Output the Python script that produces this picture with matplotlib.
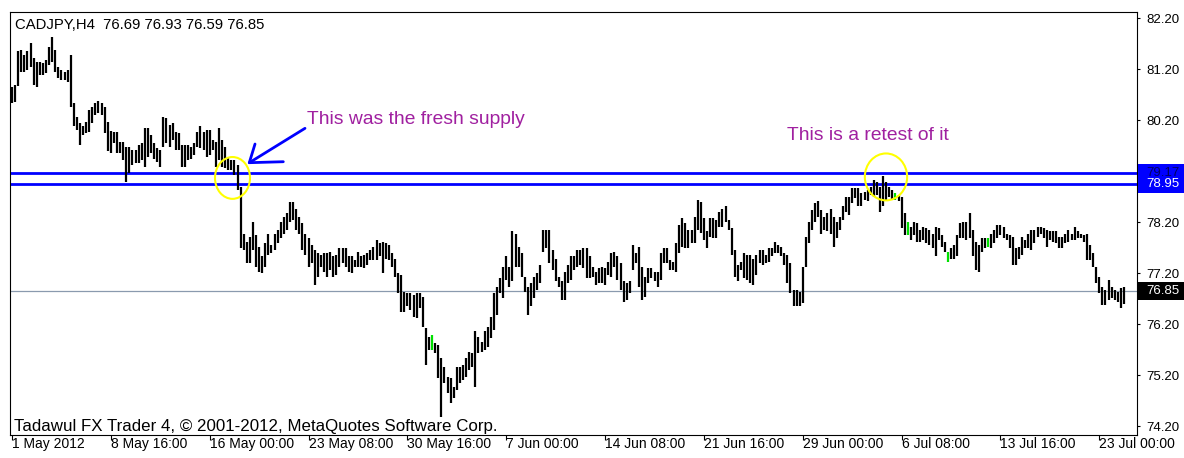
import matplotlib
matplotlib.use("Agg")
import matplotlib.pyplot as plt
from matplotlib.patches import Ellipse, Rectangle
from matplotlib.transforms import blended_transform_factory
import numpy as np

plt.rcParams['font.family'] = ['Liberation Sans', 'DejaVu Sans']

W, H = 1184, 458

# ---------------- data ----------------
symbol = "CADJPY,H4"
last_ohlc = [76.69, 76.93, 76.59, 76.85]
supply_top = 79.17
supply_bottom = 78.95
bid = 76.85

highs = [
    80.85, 80.89, 81.55, 81.58, 81.48, 81.55, 81.71, 81.42, 81.35, 81.35,
    81.32, 81.38, 81.64, 81.84, 81.58, 81.25, 81.19, 81.15, 81.19, 81.48,
    80.53, 80.27, 80.14, 80.08, 80.17, 80.40, 80.47, 80.53, 80.57, 80.53,
    80.47, 80.17, 80.00, 79.98, 79.98, 79.78, 79.78, 79.68, 79.68, 79.62,
    79.62, 79.72, 79.75, 80.04, 80.04, 79.91, 79.75, 79.65, 79.62, 80.27,
    80.24, 80.11, 80.14, 79.98, 79.95, 79.72, 79.72, 79.72, 79.68, 79.75,
    79.98, 80.08, 79.98, 80.01, 80.01, 79.81, 79.78, 80.04, 79.81, 79.68,
    79.49, 79.42, 79.42, 79.32, 78.90, 77.98, 77.82, 77.92, 78.21, 77.95,
    77.72, 77.53, 77.79, 77.98, 77.76, 77.98, 78.05, 78.21, 78.31, 78.38,
    78.60, 78.59, 78.47, 78.31, 78.18, 77.98, 77.89, 77.76, 77.66, 77.59,
    77.56, 77.59, 77.59, 77.62, 77.53, 77.56, 77.69, 77.69, 77.69, 77.53,
    77.53, 77.46, 77.62, 77.53, 77.56, 77.59, 77.66, 77.72, 77.85, 77.79,
    77.82, 77.79, 77.76, 77.59, 77.49, 77.20, 77.17, 76.84, 76.81, 76.81,
    76.78, 76.81, 76.81, 76.74, 76.12, 75.96, 75.99, 75.83, 75.79, 75.53,
    75.37, 75.17, 75.14, 74.98, 75.37, 75.37, 75.40, 75.53, 75.66, 75.63,
    76.06, 75.96, 75.86, 76.06, 76.15, 76.35, 76.81, 76.94, 77.10, 77.33,
    77.53, 77.33, 78.02, 77.98, 77.72, 77.59, 77.13, 76.94, 77.00, 77.13,
    77.20, 77.36, 78.05, 78.05, 78.05, 77.66, 77.49, 77.13, 77.04, 77.23,
    77.36, 77.53, 77.53, 77.66, 77.66, 77.69, 77.69, 77.53, 77.33, 77.23,
    77.30, 77.33, 77.30, 77.43, 77.59, 77.62, 77.53, 77.40, 77.04, 77.00,
    77.04, 77.76, 77.59, 77.72, 77.33, 77.13, 77.30, 77.30, 77.23, 77.23,
    77.59, 77.69, 77.69, 77.46, 77.43, 77.79, 78.15, 78.28, 78.18, 78.05,
    78.05, 78.31, 78.64, 78.60, 78.28, 78.02, 78.28, 78.28, 78.25, 78.41,
    78.47, 78.51, 78.25, 78.08, 77.66, 77.36, 77.43, 77.59, 77.56, 77.56,
    77.49, 77.56, 77.66, 77.66, 77.56, 77.69, 77.69, 77.82, 77.76, 77.72,
    77.59, 77.56, 77.40, 76.87, 76.87, 76.84, 77.33, 77.92, 78.21, 78.44,
    78.57, 78.61, 78.44, 78.31, 78.38, 78.47, 78.31, 78.21, 78.31, 78.51,
    78.70, 78.70, 78.87, 78.87, 78.87, 78.77, 78.80, 78.83, 78.90, 79.03,
    79.00, 78.90, 79.10, 79.00, 78.90, 78.83, 78.77, 78.74, 78.70, 78.38,
    78.21, 78.11, 78.21, 78.18, 78.05, 78.11, 78.08, 78.05, 77.98, 78.11,
    78.08, 77.95, 77.82, 77.62, 77.69, 77.76, 77.95, 78.18, 78.21, 78.21,
    78.38, 78.05, 77.82, 77.76, 77.89, 77.89, 77.89, 77.98, 78.05, 78.15,
    78.15, 78.11, 77.98, 77.95, 77.92, 77.69, 77.72, 77.92, 77.85, 77.98,
    78.05, 78.05, 78.11, 78.11, 78.08, 78.05, 78.02, 78.02, 78.02, 77.92,
    77.92, 77.98, 78.05, 77.98, 78.11, 78.02, 77.98, 77.95, 77.98, 77.76,
    77.59, 77.33, 77.13, 76.94, 76.87, 77.07, 76.94, 76.87, 76.84, 76.91,
    76.93,
]
lows = [
    80.53, 80.55, 80.88, 81.15, 81.15, 81.19, 81.25, 80.89, 80.86, 81.09,
    81.09, 81.12, 81.28, 81.35, 81.15, 81.02, 80.99, 80.99, 80.96, 80.47,
    80.08, 80.01, 79.72, 79.91, 79.95, 79.98, 80.14, 80.30, 80.34, 80.30,
    79.95, 79.60, 79.55, 79.75, 79.55, 79.55, 79.42, 79.00, 79.16, 79.32,
    79.36, 79.36, 79.42, 79.29, 79.49, 79.55, 79.45, 79.39, 79.29, 79.68,
    79.75, 79.68, 79.81, 79.62, 79.62, 79.29, 79.29, 79.42, 79.45, 79.52,
    79.68, 79.65, 79.62, 79.49, 79.52, 79.62, 79.29, 79.42, 79.29, 79.26,
    79.23, 79.23, 79.13, 78.83, 77.69, 77.66, 77.40, 77.40, 77.66, 77.33,
    77.23, 77.20, 77.33, 77.56, 77.59, 77.66, 77.79, 77.89, 77.98, 78.05,
    78.21, 78.25, 78.05, 77.98, 77.66, 77.56, 77.33, 77.40, 76.97, 77.13,
    77.33, 77.23, 77.13, 77.27, 77.13, 77.17, 77.33, 77.40, 77.33, 77.23,
    77.20, 77.33, 77.33, 77.33, 77.30, 77.36, 77.46, 77.46, 77.46, 77.53,
    77.20, 77.49, 77.46, 77.33, 77.13, 76.81, 76.45, 76.45, 76.55, 76.48,
    76.35, 76.32, 76.51, 76.15, 75.40, 75.70, 75.70, 75.63, 75.14, 74.39,
    75.04, 74.85, 74.65, 74.75, 74.91, 75.04, 75.11, 75.17, 75.30, 75.37,
    74.98, 75.63, 75.66, 75.70, 75.76, 75.93, 76.09, 76.38, 76.81, 76.71,
    77.07, 76.94, 77.04, 77.33, 77.33, 77.13, 76.84, 76.38, 76.55, 76.71,
    76.87, 77.00, 77.62, 77.69, 77.40, 77.27, 77.04, 76.94, 76.68, 76.68,
    77.00, 77.07, 77.27, 77.33, 77.36, 77.30, 77.10, 77.10, 77.13, 76.97,
    77.00, 77.00, 76.97, 77.17, 77.13, 77.33, 77.07, 76.87, 76.64, 76.68,
    76.81, 77.27, 77.40, 76.94, 76.68, 76.74, 77.00, 77.10, 77.04, 76.94,
    77.07, 77.40, 77.40, 77.27, 77.27, 77.23, 77.59, 77.72, 77.69, 77.69,
    77.79, 77.79, 78.05, 78.00, 77.85, 77.69, 77.92, 77.89, 77.89, 78.11,
    78.11, 78.21, 78.05, 77.56, 77.13, 77.04, 77.27, 77.10, 77.07, 77.00,
    76.97, 77.17, 77.40, 77.36, 77.40, 77.43, 77.53, 77.59, 77.59, 77.53,
    77.36, 77.00, 76.81, 76.55, 76.55, 76.55, 76.61, 77.33, 77.79, 78.05,
    78.21, 78.31, 77.98, 78.05, 78.02, 77.98, 77.72, 77.89, 78.05, 78.25,
    78.41, 78.34, 78.57, 78.67, 78.51, 78.51, 78.64, 78.61, 78.74, 78.70,
    78.74, 78.41, 78.51, 78.61, 78.70, 78.64, 78.64, 78.61, 78.08, 77.95,
    77.95, 77.85, 77.95, 77.82, 77.82, 77.85, 77.79, 77.76, 77.69, 77.53,
    77.85, 77.72, 77.62, 77.43, 77.49, 77.49, 77.53, 77.89, 77.89, 77.85,
    77.89, 77.53, 77.27, 77.23, 77.62, 77.69, 77.72, 77.69, 77.79, 77.89,
    77.95, 77.89, 77.85, 77.69, 77.36, 77.36, 77.49, 77.56, 77.69, 77.69,
    77.66, 77.79, 77.92, 77.98, 77.89, 77.72, 77.85, 77.82, 77.79, 77.69,
    77.69, 77.79, 77.82, 77.85, 77.85, 77.89, 77.89, 77.82, 77.46, 77.46,
    77.33, 77.00, 76.81, 76.58, 76.58, 76.68, 76.71, 76.68, 76.64, 76.51,
    76.59,
]
green_bars = [136, 286, 290, 303, 316]

time_ticks = [0, 32, 64, 96, 128, 160, 192, 224, 256, 288, 320, 352]
time_labels = ["1 May 2012", "8 May 16:00", "16 May 00:00", "23 May 08:00",
               "30 May 16:00", "7 Jun 00:00", "14 Jun 08:00", "21 Jun 16:00",
               "29 Jun 00:00", "6 Jul 08:00", "13 Jul 16:00", "23 Jul 00:00"]
price_ticks = [82.20, 81.20, 80.20, 78.20, 77.20, 76.20, 75.20, 74.20]

note_supply = "This was the fresh supply"
note_retest = "This is a retest of it"

# ---------------- figure ----------------
fig = plt.figure(figsize=(W / 100, H / 100), dpi=100)
fig.patch.set_facecolor('white')
ax = fig.add_axes([10 / W, (H - 435) / H, 1127 / W, 423 / H])
ax.set_facecolor('white')

n = len(highs)
x = np.arange(n)
colors = ['#00e000' if i in green_bars else 'black' for i in range(n)]

ax.axhline(bid, color='#8a9aae', lw=0.9, zorder=1)
ax.axhline(supply_top, color='#0000ff', lw=2.0, zorder=2)
ax.axhline(supply_bottom, color='#0000ff', lw=2.0, zorder=2)
ax.vlines(x, lows, highs, colors=colors, lw=1.6, zorder=3)

ax.set_xlim(-0.65, 364.2)
ax.set_ylim(74.029, 82.324)

for s in ax.spines.values():
    s.set_color('black')
    s.set_linewidth(0.8)

ax.set_xticks(time_ticks)
ax.set_xticklabels(time_labels, ha='left')
ax.tick_params(axis='x', direction='out', length=3.6, width=0.8, pad=-2.5,
               labelsize=10, colors='black')
ax.yaxis.tick_right()
ax.set_yticks(price_ticks)
ax.set_yticklabels([f"{v:.2f}" for v in price_ticks])
ax.tick_params(axis='y', direction='out', length=2.5, width=0.8, pad=4.0,
               labelsize=9.5, colors='black')

# price labels on the right axis
blend = blended_transform_factory(ax.transAxes, ax.transData)
hh = 9.2 / 51.0
box_left = 1.0009
box_w = 47 / 1127
for val, fc, tc in [(supply_top, '#0000ff', '#000060'),
                    (supply_bottom, '#0000ff', 'white'),
                    (bid, 'black', 'white')]:
    ax.add_patch(Rectangle((box_left, val - hh), box_w, 2 * hh, transform=blend,
                           facecolor=fc, edgecolor='none', clip_on=False, zorder=6))
    ax.text(box_left + 8 / 1127, val, f"{val:.2f}", transform=blend, ha='left',
            va='center', fontsize=9.5, color=tc, clip_on=False, zorder=7)

# hand drawn annotations
ax.add_patch(Ellipse((71.38, 79.07), 11.33, 0.82, facecolor='none',
                     edgecolor='#ffff00', lw=1.5, zorder=8))
ax.add_patch(Ellipse((282.94, 79.09), 13.7, 0.92, facecolor='none',
                     edgecolor='#ffff00', lw=1.5, zorder=8))
arrow_col = '#0000ff'
ax.plot([94.85, 76.82], [80.043, 79.369], color=arrow_col, lw=2.0, zorder=8,
        solid_capstyle='round')
ax.plot([78.67, 76.82, 87.83], [79.735, 79.369, 79.388], color=arrow_col, lw=2.0,
        zorder=8, solid_capstyle='round', solid_joinstyle='round')
ax.text(95.5, 80.127, note_supply, color='#a020a0', fontsize=13.9,
        va='baseline', ha='left', zorder=9)
ax.text(251.0, 79.814, note_retest, color='#a020a0', fontsize=13.9,
        va='baseline', ha='left', zorder=9)

# header and footer texts
fig.text(15 / W, 1 - 29.3 / H,
         f"{symbol}  " + " ".join(f"{v:.2f}" for v in last_ohlc),
         fontsize=10.7, va='baseline', ha='left', color='black')
fig.text(14 / W, 1 - 430.5 / H,
         "Tadawul FX Trader 4, \u00a9 2001-2012, MetaQuotes Software Corp.",
         fontsize=12.2, va='baseline', ha='left', color='black')

fig.savefig("out.png", dpi=100, facecolor='white')
